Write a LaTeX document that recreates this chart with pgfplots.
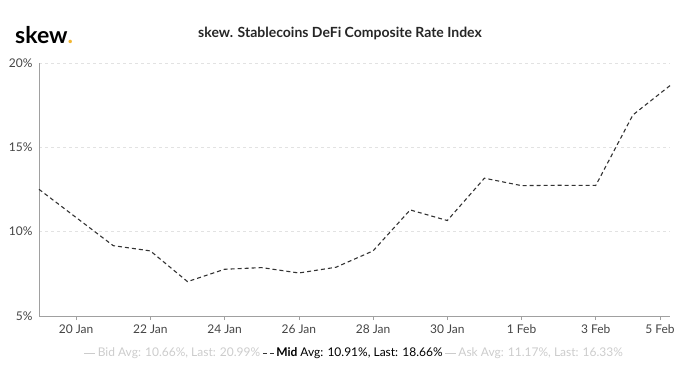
\documentclass[border=0pt]{standalone}
\usepackage{pgfplots}
\pgfplotsset{compat=1.18}
\usepackage{fontspec}
\setmainfont{Lato}
\definecolor{ticklab}{HTML}{444444}
\definecolor{axisgray}{HTML}{A0A0A0}
\definecolor{gridgray}{HTML}{E2E2E2}
\definecolor{faint}{HTML}{CCCCCC}
\definecolor{linedark}{HTML}{333333}
\definecolor{skewyellow}{HTML}{F2B632}
\begin{document}
\begin{tikzpicture}[x=1pt,y=1pt]
\path[use as bounding box] (0,0) rectangle (680,380);
\node[anchor=west,font=\fontsize{23}{26}\selectfont\bfseries, inner sep=0pt] at (15,345) {skew\textcolor{skewyellow}{.}};
\node[font=\fontsize{14}{16}\selectfont\bfseries,text=black!85] at (340,347) {skew. Stablecoins DeFi Composite Rate Index};
\begin{axis}[
  at={(39pt,64pt)}, anchor=south west,
  width=631pt, height=253pt, scale only axis,
  xmin=19, xmax=36, ymin=5, ymax=20,
  axis x line*=bottom, axis y line*=left,
  x axis line style={draw=axisgray, line width=0.8pt},
  y axis line style={draw=axisgray, line width=0.8pt},
  xtick={20,22,24,26,28,30,32,34,35.73},
  xticklabels={20 Jan,22 Jan,24 Jan,26 Jan,28 Jan,30 Jan,1 Feb,3 Feb,5 Feb},
  ytick={5,10,15,20},
  yticklabel={\pgfmathprintnumber{\tick}\%},
  /pgf/number format/assume math mode=true,
  tick label style={font=\fontsize{12}{14}\selectfont, text=ticklab},
  xtick style={draw=axisgray, line width=0.6pt},
  ytick style={draw=none},
  tick align=outside, major tick length=4pt,
  xticklabel style={yshift=-1pt},
  yticklabel style={xshift=1pt},
  ymajorgrids, grid style={dashed, draw=gridgray, line width=0.8pt},
  clip=false,
  legend columns=3,
  legend style={draw=none, fill=none, at={(0.5,-0.118)}, anchor=north,
    font=\fontsize{12}{14}\selectfont, /tikz/every even column/.append style={column sep=0pt},
    inner sep=0pt, nodes={inner xsep=2pt}},
  legend cell align=left,
  legend image code/.code={\draw[#1] (0pt,0pt) -- (11pt,0pt);},
]
\addlegendimage{faint, line width=0.8pt}
\addlegendentry{\textcolor{faint}{Bid Avg: 10.66\%, Last: 20.99\%}}
\addplot[linedark, line width=1.1pt, dash pattern=on 4pt off 3pt] coordinates {
(19,12.51) (20,10.84) (21,9.17) (22,8.86) (23,7.04) (24,7.77) (25,7.87) (26,7.55)
(27,7.89) (28,8.86) (29,11.29) (30,10.66) (31,13.17) (32,12.73) (33,12.75) (34,12.74)
(35,16.92) (36,18.66)};
\addlegendentry{\textcolor{black}{\textbf{Mid} Avg: 10.91\%, Last: 18.66\%}}
\addlegendimage{faint, line width=0.8pt}
\addlegendentry{\textcolor{faint}{Ask Avg: 11.17\%, Last: 16.33\%}}
\end{axis}
\end{tikzpicture}
\end{document}
